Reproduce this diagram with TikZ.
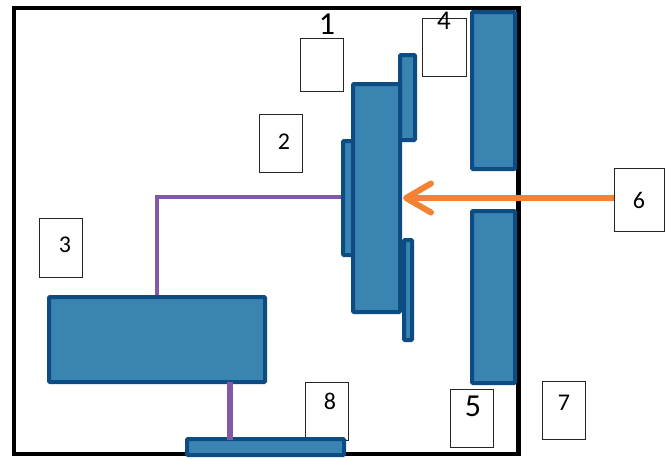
\documentclass[tikz,border=0pt]{standalone}
\usepackage{fontspec}
\setmainfont{Carlito}
\usetikzlibrary{arrows.meta}
\definecolor{fillb}{HTML}{3A84B2}
\definecolor{edgeb}{HTML}{0D4C82}
\definecolor{purp}{HTML}{8458A8}
\definecolor{oran}{HTML}{F58233}
\tikzset{x=1pt,y=-1pt,
 bar/.style={draw=edgeb,fill=fillb,line width=4pt,rounded corners=1pt,inner sep=0pt,anchor=north west},
 labbox/.style={draw=black!85,fill=white,line width=0.9pt,inner sep=0pt},
 digit/.style={inner sep=0pt,font=\fontsize{#1}{#1}\selectfont},
 wire/.style={draw=purp,line width=4.5pt}}
\begin{document}
\begin{tikzpicture}
\useasboundingbox (0,0) rectangle (666,459);
\path[fill=white] (0,0) rectangle (666,459);
\draw[black,line width=4.5pt] (14,8) rectangle (518.5,454);
% label boxes
\node[labbox,minimum width=43pt,minimum height=53pt] (l1) at (321.5,64.5) {};
\node[labbox,minimum width=43pt,minimum height=58pt] (l2) at (281,143) {};
\node[labbox,minimum width=43pt,minimum height=59pt] (l3) at (61,248) {};
\node[labbox,minimum width=44pt,minimum height=58pt] (l4) at (444,47) {};
\node[labbox,minimum width=43pt,minimum height=58pt] (l5) at (472,418) {};
\node[labbox,minimum width=50pt,minimum height=63pt] (l6) at (639,200) {};
\node[labbox,minimum width=43pt,minimum height=58pt] (l7) at (564,410) {};
\node[labbox,minimum width=43pt,minimum height=58pt] (l8) at (326.5,411) {};
% bars
\node[bar,minimum width=216pt,minimum height=85pt] (big) at (47,295) {};
\node[bar,minimum width=157pt,minimum height=16pt] (base) at (185,437) {};
\node[bar,minimum width=43pt,minimum height=157pt] (slitA) at (470,10) {};
\node[bar,minimum width=43pt,minimum height=172pt] (slitB) at (470,209) {};
\node[bar,minimum width=10pt,minimum height=114pt] (lensL) at (341,139) {};
\node[bar,minimum width=15pt,minimum height=85pt] (upr) at (398,53) {};
\node[bar,minimum width=8pt,minimum height=100pt] (lwr) at (402,238) {};
\node[bar,minimum width=47pt,minimum height=228pt] (core) at (351,82) {};
% connectors
\coordinate (bend) at (157,197);
\draw[wire] (lensL.west |- bend) -- (bend) -- (bend |- big.north);
\draw[wire,line width=6.5pt] (230,382) coordinate (wa) -- (230,440) coordinate (wb);
\coordinate (arrowEnd) at (403,198);
\draw[oran,line width=6pt,-{Straight Barb[length=25pt,width=29pt,round,line width=6pt]}] (l6.west |- arrowEnd) -- (arrowEnd);
% digits
\node[digit=32] (t1) at (327,24) {1};
\node[digit=24] (t2) at (284,142) {2};
\node[digit=24] (t3) at (65,245) {3};
\node[digit=27] (t4) at (444,21) {4};
\node[digit=32] (t5) at (473,406) {5};
\node[digit=24] (t6) at (639,200) {6};
\node[digit=24] (t7) at (564,403) {7};
\node[digit=24] (t8) at (330,401) {8};
\end{tikzpicture}
\end{document}
